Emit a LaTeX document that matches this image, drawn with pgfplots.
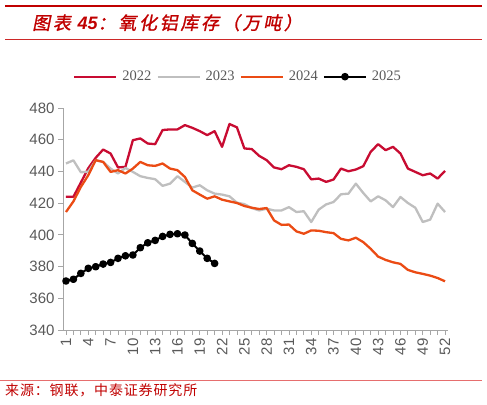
\documentclass[border=0pt]{standalone}
\usepackage{fontspec}
\setmainfont{Liberation Sans}
\newfontfamily\cjk[LetterSpace=6]{Noto Sans CJK SC}
\newfontfamily\cjktitle[FakeSlant=0.2,FakeBold=1.2,LetterSpace=15]{Noto Sans CJK SC}
\newfontfamily\lserif{Liberation Serif}
\usepackage{pgfplots}
\pgfplotsset{compat=1.18}
\definecolor{c22}{RGB}{200,12,50}
\definecolor{c23}{RGB}{191,191,191}
\definecolor{c24}{RGB}{235,75,20}
\definecolor{titlered}{RGB}{192,0,0}
\definecolor{linered}{RGB}{205,40,40}
\definecolor{linered2}{RGB}{230,110,110}
\definecolor{axgray}{RGB}{166,166,166}
\definecolor{txtgray}{RGB}{89,89,89}

\pgfplotstableread{
w v
1 424
2 424
3 433
4 442
5 448.6
6 453.8
7 451.3
8 442.5
9 442.9
10 459.7
11 460.8
12 457.6
13 457.2
14 466.1
15 466.5
16 466.5
17 469.2
18 467.5
19 465.4
20 462.9
21 465.4
22 455.5
23 469.9
24 467.8
25 454.5
26 454.1
27 449.8
28 447.1
29 442.5
30 441.4
31 443.9
32 442.9
33 441.4
34 435.0
35 435.5
36 433.4
37 434.9
38 441.8
39 440.1
40 441.2
41 443.3
42 452.4
43 457.2
44 453.4
45 455.5
46 451.3
47 441.8
48 439.7
49 437.6
50 438.7
51 435.5
52 440.3
}\tA

\pgfplotstableread{
w v
1 445
2 447
3 439.5
4 439.8
5 447
6 446
7 441.8
8 438.7
9 442.2
10 439.7
11 437
12 435.9
13 435.1
14 430.9
15 432.3
16 437
17 433.4
18 429.8
19 431.3
20 428.1
21 426
22 425.4
23 424.3
24 420.3
25 419.4
26 416.9
27 415.4
28 416.5
29 415.4
30 415.4
31 417.5
32 414.4
33 414.9
34 408.1
35 415.9
36 419.2
37 420.7
38 425.6
39 426
40 432.3
41 426.4
42 421.1
43 424.3
44 421.8
45 417.5
46 423.9
47 420.1
48 417.1
49 408.1
50 409.6
51 419.7
52 414.4
}\tB

\pgfplotstableread{
w v
1 414.4
2 421.1
3 430.2
4 437.6
5 447.1
6 446
7 439.7
8 440.8
9 438.7
10 441.8
11 446
12 443.9
13 443.5
14 445
15 441.8
16 440.8
17 436.5
18 428.1
19 425.4
20 422.8
21 424.3
22 422.2
23 421.1
24 420.1
25 418.2
26 417.1
27 416.3
28 416.9
29 409.1
30 406.3
31 406.5
32 402.2
33 400.7
34 402.8
35 402.6
36 401.7
37 401.1
38 397.5
39 396.5
40 398.2
41 395.4
42 391.2
43 386.3
44 384.2
45 382.7
46 381.7
47 377.9
48 376.4
49 375.4
50 374.3
51 372.8
52 370.7
}\tC

\pgfplotstableread{
w v
1 370.9
2 372.0
3 375.7
4 378.9
5 379.9
6 381.6
7 382.6
8 385.2
9 386.8
10 387.3
11 391.9
12 395.0
13 396.5
14 399.0
15 400.3
16 400.7
17 399.9
18 394.6
19 389.8
20 385.2
21 382.0
}\tD

\begin{document}
\begin{tikzpicture}[x=1bp,y=1bp]
\useasboundingbox (0,0) rectangle (487,404);
\draw[titlered, line width=2.5bp] (5,398) -- (482,398);
\node[anchor=west, text=titlered, inner sep=0pt] at (32,381.3)
  {\cjktitle\fontsize{18bp}{21bp}\selectfont 图表 {\fontspec{Liberation Sans}\bfseries\itshape 45}：氧化铝库存（万吨）};
\draw[linered, line width=0.8bp] (5,364.7) -- (482,364.7);

\begin{axis}[
  at={(63bp,74bp)}, anchor=south west,
  scale only axis, width=385bp, height=222bp,
  xmin=0.6, xmax=52.4, ymin=340, ymax=480,
  axis x line=bottom, axis y line=left,
  axis line style={-, axgray, line width=0.9bp},
  tick align=outside, major tick length=5bp,
  tick style={axgray, line width=0.8bp},
  ytick={340,360,...,480},
  xtick={1,...,52},
  xticklabels={1,,,4,,,7,,,10,,,13,,,16,,,19,,,22,,,25,,,28,,,31,,,34,,,37,,,40,,,43,,,46,,,49,,,52},
  /pgf/number format/assume math mode=true,
  /pgf/number format/1000 sep={},
  ticklabel style={font=\fontsize{15bp}{17bp}\selectfont, text=txtgray},
  xticklabel style={rotate=90, anchor=east},
  legend style={at={(axis description cs:0.452,1.141)}, anchor=center,
    draw=none, fill=none, legend columns=4,
    font=\lserif\fontsize{14.5bp}{16bp}\selectfont, text=txtgray,
    nodes={inner sep=0pt},
    /tikz/every odd column/.append style={column sep=5bp},
    /tikz/every even column/.append style={column sep=5bp}},
  legend image code/.code={\draw[mark repeat=2,mark phase=2,#1] plot coordinates {(0bp,0bp) (21bp,0bp) (42bp,0bp)};},
  clip=false,
]
\addplot[c22, line width=2.3bp, line join=round] table[x=w,y=v]{\tA};
\addlegendentry{2022}
\addplot[c23, line width=2.3bp, line join=round] table[x=w,y=v]{\tB};
\addlegendentry{2023}
\addplot[c24, line width=2.3bp, line join=round] table[x=w,y=v]{\tC};
\addlegendentry{2024}
\addplot[black, line width=2bp, mark=*, mark size=2.8bp, line join=round] table[x=w,y=v]{\tD};
\addlegendentry{2025}
\end{axis}

\draw[linered2, line width=1bp] (0,23.5) -- (482,23.5);
\node[anchor=west, inner sep=0pt, text=titlered] at (5,14)
  {\cjk\fontsize{14bp}{16bp}\selectfont 来源：钢联，中泰证券研究所};
\end{tikzpicture}
\end{document}
